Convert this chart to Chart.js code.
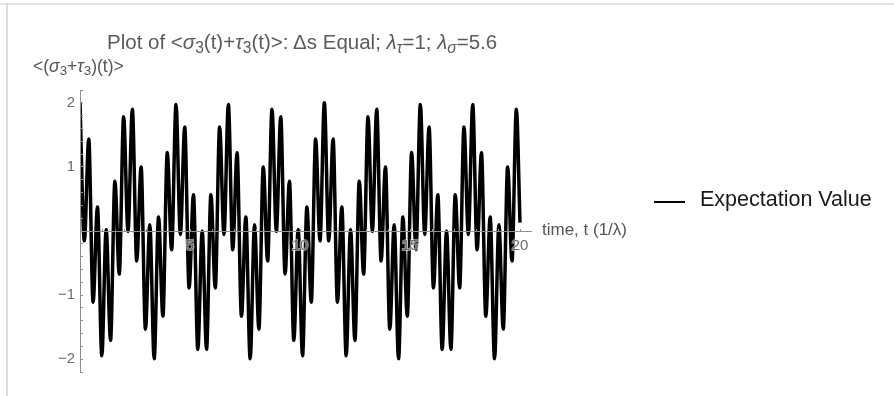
<!DOCTYPE html>
<html>
<head>
<meta charset="utf-8">
<script src="https://cdn.jsdelivr.net/npm/chart.js@4/dist/chart.umd.min.js"></script>
<style>
  html, body { margin: 0; padding: 0; background: #fff; }
  #wrap { position: relative; width: 894px; height: 396px; overflow: hidden; background: #fff; font-family: "Liberation Sans", Arial, Helvetica, sans-serif; }
  #chart { position: absolute; left: 0; top: 0; }
  .txt { position: absolute; white-space: nowrap; line-height: 1; }
  .txt sub { font-size: 76%; vertical-align: -0.26em; line-height: 0; }
  #frameTop { position: absolute; left: 0; top: 3px; width: 894px; height: 2px; background: #e6e6e6; }
  #frameLeft { position: absolute; left: 6px; top: 3px; width: 2px; height: 393px; background: #dcdcdc; }
  #title { left: 107px; top: 32px; font-size: 20.5px; color: #5b5b5b; }
  #ylab { left: 33px; top: 58px; font-size: 17.5px; color: #555; }
  #xlab { left: 542px; top: 221px; font-size: 17px; color: #555; }
  #legLine { position: absolute; left: 654px; top: 201px; width: 31px; height: 2px; background: #000; }
  #legText { left: 700px; top: 189px; font-size: 21.5px; color: #1a1a1a; }
</style>
</head>
<body>
<div id="wrap">
  <div id="frameTop"></div>
  <div id="frameLeft"></div>
  <canvas id="chart" width="894" height="396"></canvas>
  <div class="txt" id="title">Plot of &lt;<i>σ</i><sub>3</sub>(t)+<i>τ</i><sub>3</sub>(t)&gt;: Δs Equal; <i>λ</i><sub><i>τ</i></sub>=1; <i>λ</i><sub><i>σ</i></sub>=5.6</div>
  <div class="txt" id="ylab">&lt;(<i>σ</i><sub>3</sub>+<i>τ</i><sub>3</sub>)(t)&gt;</div>
  <div class="txt" id="xlab">time, t (1/λ)</div>
  <div id="legLine"></div>
  <div class="txt" id="legText">Expectation Value</div>
</div>
<script>
// Times (1/λ) of the curve's successive turning points, plus the end point
const times = [
  0, 0.198, 0.397, 0.595, 0.793, 0.992, 1.190, 1.388, 1.587, 1.785,
  1.983, 2.182, 2.380, 2.578, 2.777, 2.975, 3.173, 3.372, 3.570, 3.768,
  3.967, 4.165, 4.364, 4.562, 4.760, 4.959, 5.157, 5.355, 5.554, 5.752,
  5.950, 6.149, 6.347, 6.545, 6.744, 6.942, 7.140, 7.339, 7.537, 7.735,
  7.934, 8.132, 8.330, 8.529, 8.727, 8.925, 9.124, 9.322, 9.520, 9.719,
  9.917, 10.115, 10.314, 10.512, 10.710, 10.909, 11.107, 11.306, 11.504, 11.702,
  11.901, 12.099, 12.297, 12.496, 12.694, 12.892, 13.091, 13.289, 13.487, 13.686,
  13.884, 14.082, 14.281, 14.479, 14.677, 14.876, 15.074, 15.272, 15.471, 15.669,
  15.867, 16.066, 16.264, 16.462, 16.661, 16.859, 17.057, 17.256, 17.454, 17.652,
  17.851, 18.049, 18.248, 18.446, 18.644, 18.843, 19.041, 19.239, 19.438, 19.636,
  19.834, 20.000
];
// <(σ3+τ3)(t)> at those points
const expectation = [
  2.000, -0.153, 1.434, -1.112, 0.376, -1.945, 0.025, -1.707, 0.777, -0.671,
  1.782, -0.006, 1.901, -0.468, 1.000, -1.532, 0.099, -1.994, 0.219, -1.329,
  1.223, -0.293, 1.975, -0.056, 1.623, -0.888, 0.566, -1.847, 0.000, -1.846,
  0.567, -0.888, 1.624, -0.056, 1.975, -0.293, 1.222, -1.331, 0.218, -1.994,
  0.099, -1.531, 1.000, -0.468, 1.901, -0.006, 1.781, -0.670, 0.777, -1.706,
  0.025, -1.945, 0.376, -1.112, 1.434, -0.153, 2.000, -0.153, 1.434, -1.112,
  0.376, -1.945, 0.025, -1.707, 0.777, -0.671, 1.782, -0.006, 1.901, -0.468,
  1.000, -1.532, 0.099, -1.994, 0.219, -1.329, 1.223, -0.293, 1.975, -0.056,
  1.623, -0.888, 0.566, -1.847, 0.000, -1.846, 0.567, -0.888, 1.624, -0.056,
  1.975, -0.293, 1.222, -1.331, 0.218, -1.994, 0.099, -1.531, 1.000, -0.468,
  1.901, 0.130
];
const xLabeledTicks = [5, 10, 15, 20];
const yLabeledTicks = [-2, -1, 1, 2];
const seriesName = 'Expectation Value';

const points = times.map((t, i) => ({ x: t, y: expectation[i] }));
const fmt = v => (v < 0 ? '\u2212' + Math.abs(v) : String(v));
const near = (v, list) => list.find(a => Math.abs(a - v) < 1e-6);

new Chart(document.getElementById('chart'), {
  type: 'line',
  data: {
    datasets: [{
      label: seriesName,
      data: points,
      borderColor: '#000',
      borderWidth: 3.5,
      pointRadius: 0,
      fill: false,
      cubicInterpolationMode: 'monotone'
    }]
  },
  options: {
    responsive: false,
    animation: false,
    devicePixelRatio: 1,
    layout: { padding: { left: 0, top: 90, right: 363, bottom: 24 } },
    plugins: { legend: { display: false }, title: { display: false }, tooltip: { enabled: false } },
    scales: {
      x: {
        type: 'linear',
        position: { y: 0 },
        min: 0,
        max: 20.5,
        border: { color: '#8f8f8f', width: 1, z: 1 },
        grid: { drawOnChartArea: false, drawTicks: true, tickLength: -3, tickColor: '#8f8f8f', z: 1 },
        ticks: {
          z: 1,
          stepSize: 1,
          includeBounds: false,
          autoSkip: false,
          maxRotation: 0,
          padding: 9,
          color: '#6b6b6b',
          textStrokeColor: 'rgba(255,255,255,0.55)',
          textStrokeWidth: 2,
          font: { family: '"Liberation Sans", Arial, sans-serif', size: 15 },
          callback: v => { const m = near(v, xLabeledTicks); return m !== undefined ? fmt(m) : ''; }
        }
      },
      y: {
        type: 'linear',
        position: 'left',
        min: -2.2,
        max: 2.2,
        afterFit: s => { s.width = 80; },
        border: { color: '#8f8f8f', width: 1, z: 1 },
        grid: { drawOnChartArea: false, drawTicks: true, tickLength: -3, tickColor: '#8f8f8f', z: 1 },
        ticks: {
          z: 1,
          stepSize: 0.2,
          includeBounds: false,
          autoSkip: false,
          padding: 8,
          color: '#6b6b6b',
          font: { family: '"Liberation Sans", Arial, sans-serif', size: 15 },
          callback: v => { const m = near(v, yLabeledTicks); return m !== undefined ? fmt(m) : ''; }
        }
      }
    }
  }
});
</script>
</body>
</html>
